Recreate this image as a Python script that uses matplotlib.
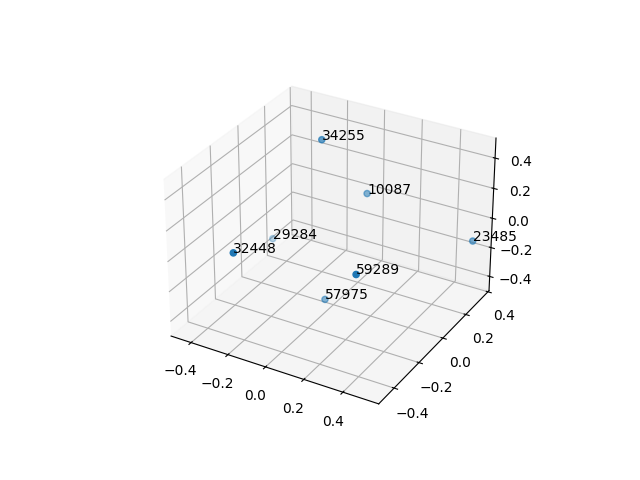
import matplotlib
matplotlib.use("Agg")
import matplotlib.pyplot as plt

labels = ["34255", "10087", "23485", "29284", "32448", "59289", "57975"]
xs = [-0.132, 0.036, 0.542, -0.428, -0.188, 0.306, -0.011]
ys = [0.104, 0.216, 0.305, 0.133, -0.477, -0.281, -0.051]
zs = [0.490, 0.114, -0.091, -0.301, 0.146, 0.042, -0.427]

fig = plt.figure(figsize=(6.4, 4.8), dpi=100)
ax = fig.add_subplot(projection='3d')
ax.scatter(xs, ys, zs)
for x, y, z, lab in zip(xs, ys, zs, labels):
    ax.text(x, y, z, lab)

ax.set_xlim(-0.51, 0.58)
ax.set_ylim(-0.52, 0.41)
ax.set_zlim(-0.50, 0.53)

plt.savefig('out.png')
